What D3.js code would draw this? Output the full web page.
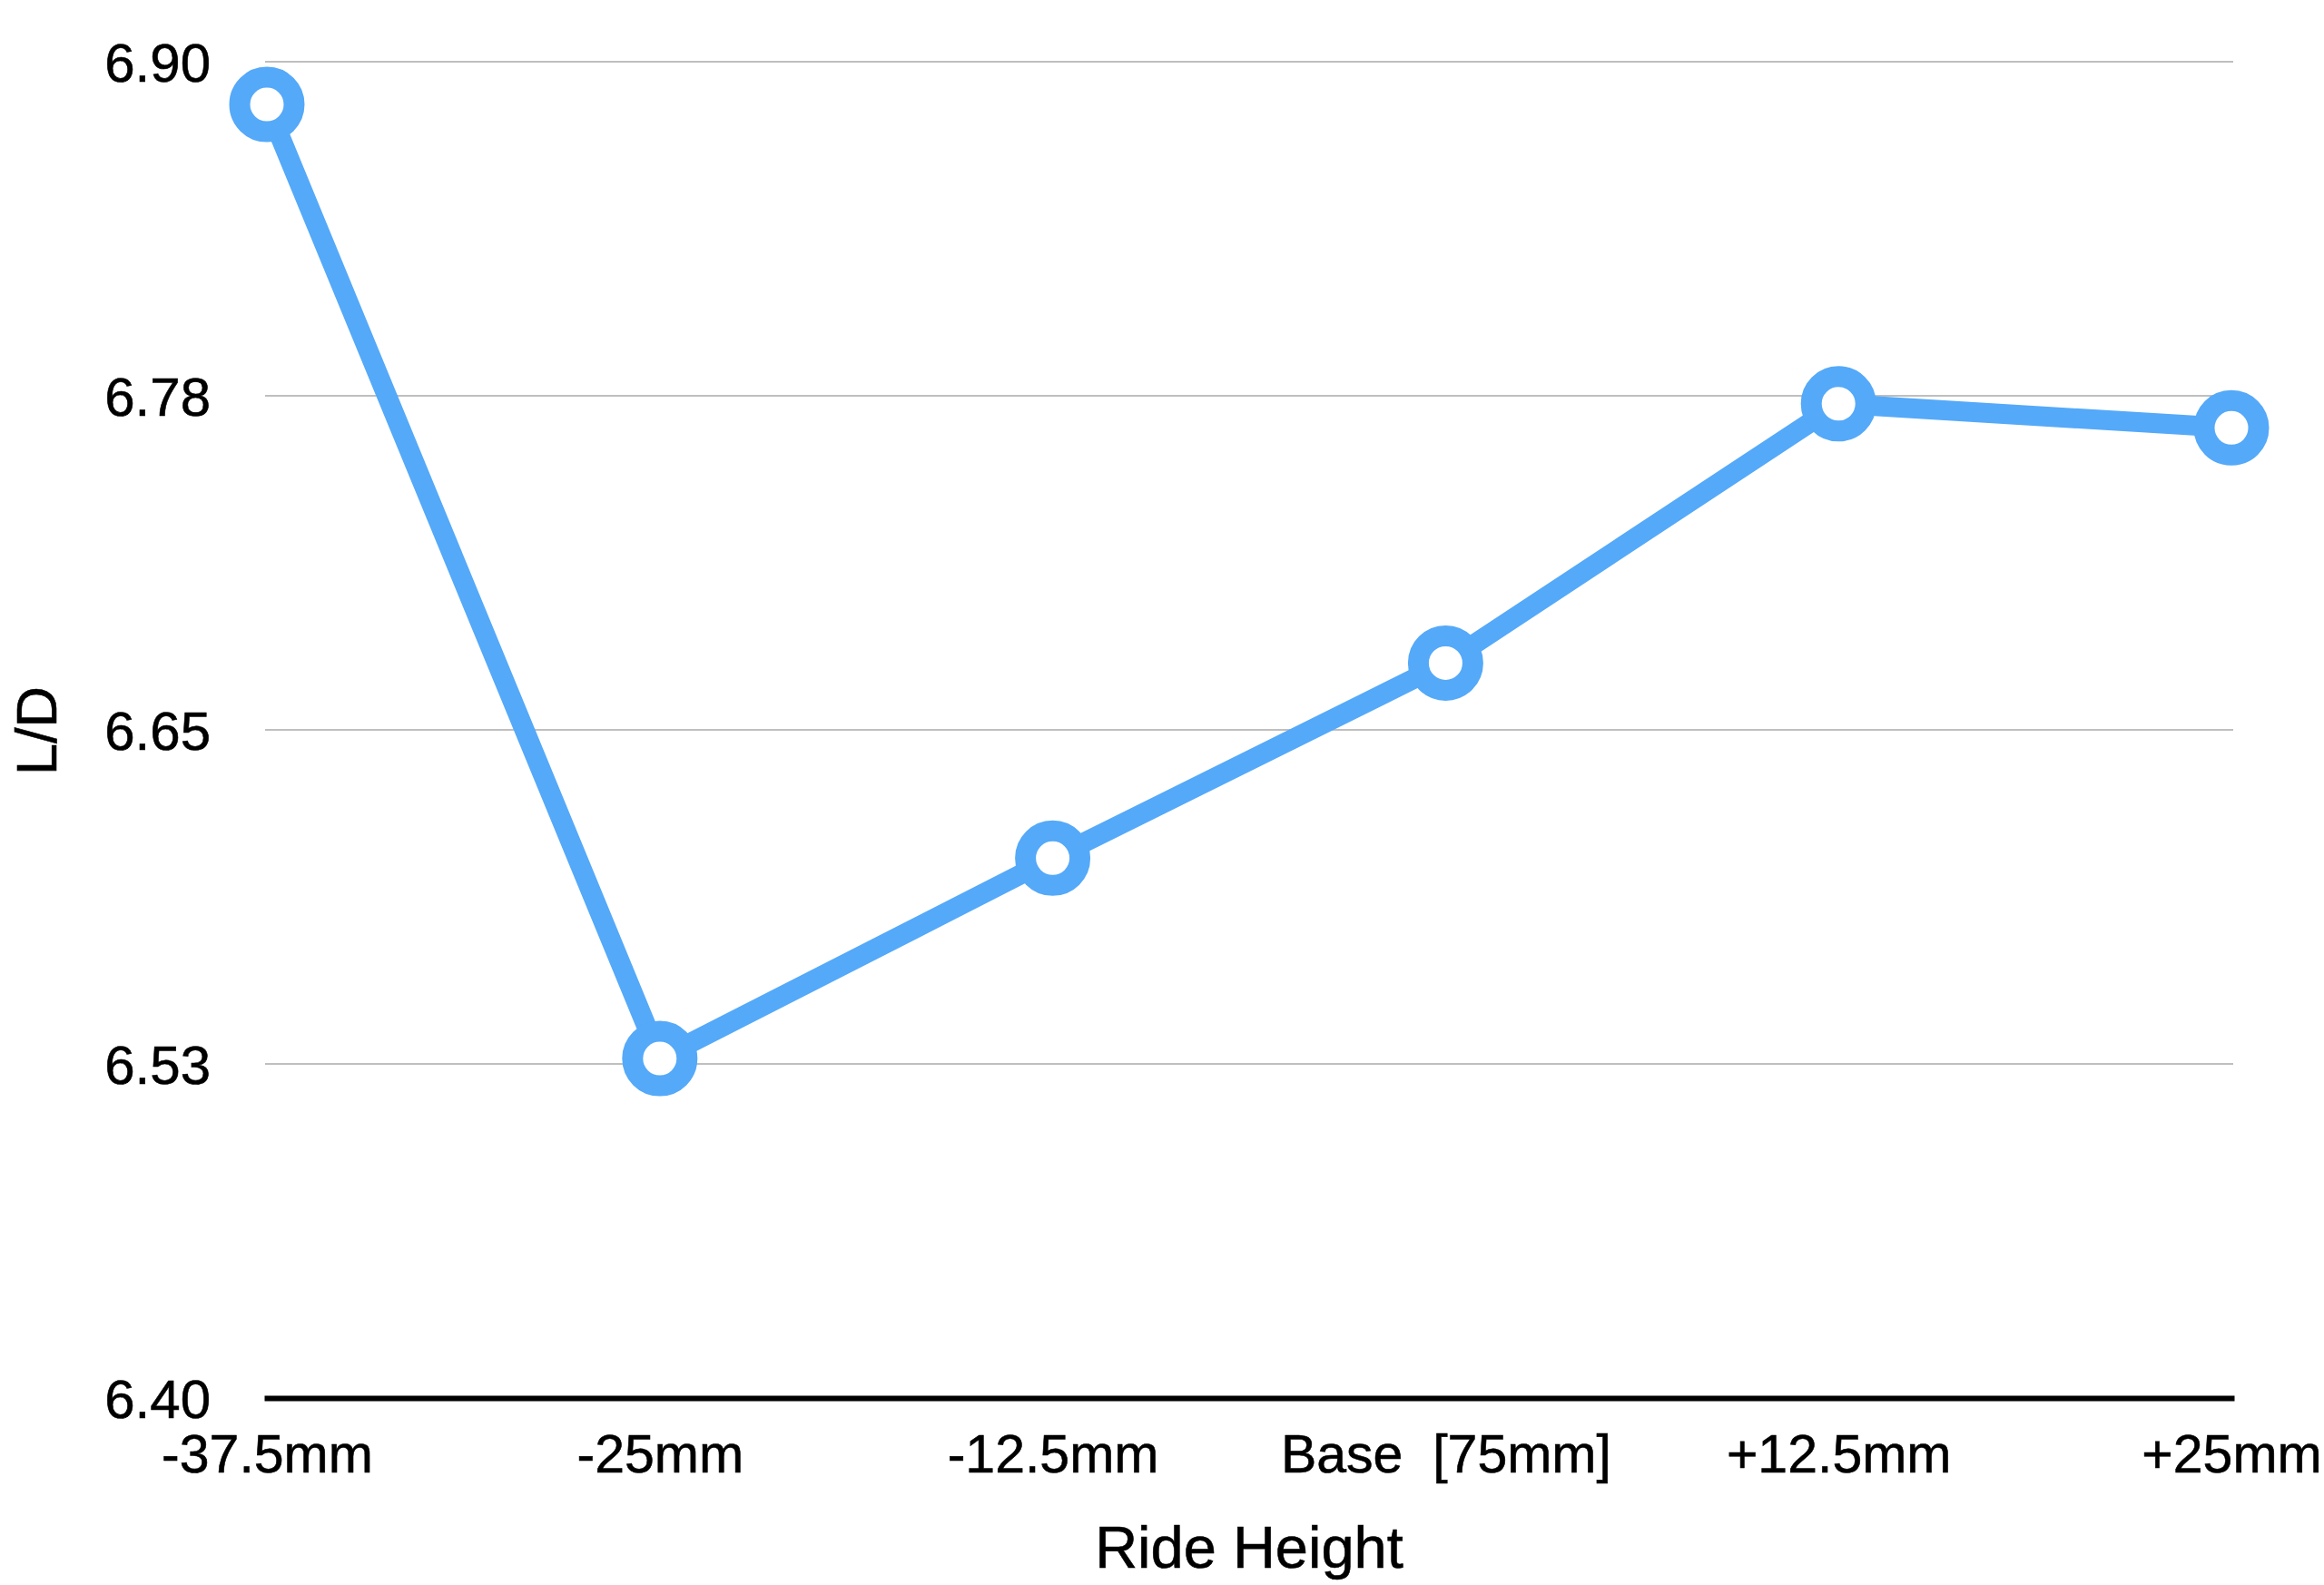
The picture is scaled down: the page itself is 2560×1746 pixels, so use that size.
<!DOCTYPE html>
<html>
<head>
<meta charset="utf-8">
<script src="https://cdn.jsdelivr.net/npm/d3@7"></script>
<style>
  body { margin: 0; background: #fff; }
  text { font-family: 'Liberation Sans', Arial, Helvetica, sans-serif; fill: #000; }
</style>
</head>
<body>
<div id="chart-area"></div>
<script>
const categories = ['-37.5mm', '-25mm', '-12.5mm', 'Base  [75mm]', '+12.5mm', '+25mm']
const ldValues = [6.884, 6.527, 6.602, 6.675, 6.772, 6.763]
const yTickValues = [6.4, 6.525, 6.65, 6.775, 6.9]
const yTickLabels = ['6.40', '6.53', '6.65', '6.78', '6.90']

const width = 2560
const height = 1746
const blue = '#54a9f9'

const svg = d3.select('#chart-area').append('svg')
    .attr('width', width)
    .attr('height', height)

svg.append('rect')
    .attr('width', width)
    .attr('height', height)
    .attr('fill', '#fff')

const xScale = d3.scalePoint()
    .domain(categories)
    .range([294, 2458])
    .padding(0)

const yScale = d3.scaleLinear()
    .domain([6.4, 6.9])
    .range([1540, 68])

// gridlines
svg.append('g')
    .selectAll('line')
    .data(yTickValues.slice(1))
    .enter()
    .append('line')
    .attr('x1', 292)
    .attr('x2', 2460)
    .attr('y1', d => yScale(d))
    .attr('y2', d => yScale(d))
    .attr('stroke', '#bfbfbf')
    .attr('stroke-width', 2)

const yAxisCall = d3.axisLeft(yScale)
    .tickValues(yTickValues)
    .tickFormat((d, i) => yTickLabels[i])
    .tickSize(0)
    .tickPadding(60)

const yAxisGroup = svg.append('g')
    .attr('transform', 'translate(292, 0)')
    .call(yAxisCall)
yAxisGroup.select('.domain').remove()
yAxisGroup.selectAll('text')
    .attr('font-size', '60px')
    .attr('dy', '0.36em')
    .attr('stroke', '#000')
    .attr('stroke-width', 0.6)
    .style('font-family', "'Liberation Sans', Arial, sans-serif")

const xAxisCall = d3.axisBottom(xScale)
    .tickSize(0)
    .tickPadding(40)

const xAxisGroup = svg.append('g')
    .attr('transform', `translate(0, ${yScale(6.4)})`)
    .call(xAxisCall)
xAxisGroup.select('.domain')
    .attr('stroke', '#000')
    .attr('stroke-width', 6)
    .attr('stroke-linecap', 'square')
xAxisGroup.selectAll('text')
    .attr('font-size', '59px')
    .attr('stroke', '#000')
    .attr('stroke-width', 0.6)
    .style('white-space', 'pre')
    .style('font-family', "'Liberation Sans', Arial, sans-serif")

// axis titles
svg.append('text')
    .attr('x', (294 + 2458) / 2)
    .attr('y', 1727)
    .attr('font-size', '65px')
    .attr('text-anchor', 'middle')
    .attr('stroke', '#000')
    .attr('stroke-width', 0.6)
    .text('Ride Height')

svg.append('text')
    .attr('transform', 'translate(62, 805) rotate(-90)')
    .attr('font-size', '63px')
    .attr('text-anchor', 'middle')
    .attr('stroke', '#000')
    .attr('stroke-width', 0.6)
    .text('L/D')

// series
const line = d3.line()
    .x((d, i) => xScale(categories[i]))
    .y(d => yScale(d))

svg.append('path')
    .datum(ldValues)
    .attr('d', line)
    .attr('fill', 'none')
    .attr('stroke', blue)
    .attr('stroke-width', 22)
    .attr('stroke-linejoin', 'round')

svg.append('g')
    .selectAll('circle')
    .data(ldValues)
    .enter()
    .append('circle')
    .attr('cx', (d, i) => xScale(categories[i]))
    .attr('cy', d => yScale(d))
    .attr('r', 30)
    .attr('fill', '#fff')
    .attr('stroke', blue)
    .attr('stroke-width', 23)
</script>
</body>
</html>
